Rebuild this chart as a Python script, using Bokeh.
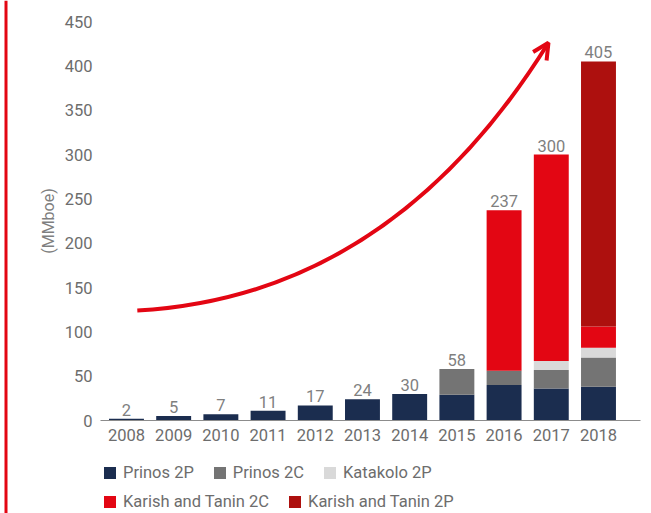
from bokeh.plotting import figure
from bokeh.layouts import column, row
from bokeh.models import (ColumnDataSource, Range1d, FixedTicker, Legend, LegendItem,
                          LabelSet, Arrow, OpenHead)
from bokeh.core.properties import value
from bokeh.embed import file_html
from bokeh.resources import INLINE

years = ["2008", "2009", "2010", "2011", "2012", "2013", "2014", "2015", "2016", "2017", "2018"]
prinos_2p = [2, 5, 7, 11, 17, 24, 30, 29, 40, 36, 38]
prinos_2c = [0, 0, 0, 0, 0, 0, 0, 29, 16, 21, 33]
katakolo_2p = [0, 0, 0, 0, 0, 0, 0, 0, 0, 10, 11]
karish_2c = [0, 0, 0, 0, 0, 0, 0, 0, 181, 233, 24]
karish_2p = [0, 0, 0, 0, 0, 0, 0, 0, 0, 0, 299]
totals = [2, 5, 7, 11, 17, 24, 30, 58, 237, 300, 405]
y_ticks = [0, 50, 100, 150, 200, 250, 300, 350, 400, 450]

series_names = ["Prinos 2P", "Prinos 2C", "Katakolo 2P", "Karish and Tanin 2C", "Karish and Tanin 2P"]
colors = ["#1b2d4f", "#747474", "#d9d9d9", "#e30613", "#ad100e"]
keys = ["p2p", "p2c", "k2p", "kt2c", "kt2p"]

xs = list(range(len(years)))
src = ColumnDataSource(dict(x=xs, p2p=prinos_2p, p2c=prinos_2c, k2p=katakolo_2p,
                            kt2c=karish_2c, kt2p=karish_2p, total=totals,
                            label=[str(t) for t in totals]))

FONT = "Roboto"
RED = "#e30613"
TXT = "#6d6d6d"
FS = "16.5px"


def bare(fig):
    fig.outline_line_color = None
    fig.xgrid.visible = False
    fig.ygrid.visible = False
    return fig


p = figure(width=643, height=450, output_backend="svg", toolbar_location=None,
           x_range=Range1d(-0.55, 10.89), y_range=Range1d(0, 450),
           min_border_left=92, min_border_right=11, min_border_top=21, min_border_bottom=30)
bare(p)

rs = p.vbar_stack(keys, x="x", width=0.74, source=src, color=colors, line_color=None)

labels = LabelSet(x="x", y="total", text="label", source=src, y_offset=3,
                  text_align="center", text_baseline="bottom",
                  text_font=value(FONT), text_font_size=value(FS), text_color="#7f7f7f")
p.add_layout(labels)

# axes
p.xaxis.ticker = FixedTicker(ticks=xs)
p.xaxis.major_label_overrides = {i: y for i, y in enumerate(years)}
p.xaxis.major_tick_line_color = None
p.xaxis.major_tick_out = 0
p.xaxis.major_tick_in = 0
p.xaxis.minor_tick_line_color = None
p.xaxis.axis_line_color = "#8c8c8c"
p.xaxis.major_label_text_font = FONT
p.xaxis.major_label_text_font_size = FS
p.xaxis.major_label_text_color = TXT
p.xaxis.major_label_standoff = 8

p.yaxis.ticker = FixedTicker(ticks=y_ticks)
p.yaxis.axis_line_color = None
p.yaxis.major_tick_line_color = None
p.yaxis.major_tick_out = 0
p.yaxis.major_tick_in = 0
p.yaxis.minor_tick_line_color = None
p.yaxis.major_label_text_font = FONT
p.yaxis.major_label_text_font_size = FS
p.yaxis.major_label_text_color = TXT
p.yaxis.major_label_standoff = 8
p.yaxis.axis_label = "(MMboe)"
p.yaxis.axis_label_text_font = FONT
p.yaxis.axis_label_text_font_style = "normal"
p.yaxis.axis_label_text_font_size = "16px"
p.yaxis.axis_label_text_color = "#7f7f7f"
p.yaxis.axis_label_standoff = 4

# growth arrow (decorative)
arrow_start = (0.23, 124)
arrow_ctrl = (5.6, 140)
arrow_end = (8.94, 426)
arrow_tail = (8.88, 421)
p.quadratic(x0=[arrow_start[0]], y0=[arrow_start[1]], x1=[arrow_end[0]], y1=[arrow_end[1]],
            cx=[arrow_ctrl[0]], cy=[arrow_ctrl[1]], line_color=RED, line_width=4)
p.add_layout(Arrow(x_start=arrow_tail[0], y_start=arrow_tail[1], x_end=arrow_end[0], y_end=arrow_end[1],
                   line_color=RED, line_width=4,
                   end=OpenHead(size=16, line_color=RED, line_width=4)))

# legend strip below the chart; the swatch renderers are tiny and hidden behind the legend box
lf = figure(width=643, height=63, output_backend="svg", toolbar_location=None,
            x_axis_location=None, y_axis_location=None,
            x_range=Range1d(0, 1), y_range=Range1d(0, 1),
            min_border_left=0, min_border_right=0, min_border_top=0, min_border_bottom=0)
bare(lf)
swatches = [lf.vbar(x=[0.3], bottom=[0.64], top=[0.66], width=0.002, color=c, line_color=None)
            for c in colors]
items = [LegendItem(label=n, renderers=[r]) for n, r in zip(series_names, swatches)]


def make_legend(its, loc):
    return Legend(items=its, orientation="horizontal", location=loc,
                  border_line_color=None, background_fill_color="white", background_fill_alpha=1,
                  label_text_font=FONT, label_text_font_size=FS, label_text_color=TXT,
                  glyph_width=15, glyph_height=15, label_standoff=6, spacing=18,
                  label_height=20, margin=0, padding=0)


lf.add_layout(make_legend(items[:3], (2, 31)))
lf.add_layout(make_legend(items[3:], (2, 2)))

# red rule on the left edge
rule = figure(width=8, height=513, output_backend="svg", toolbar_location=None,
              x_axis_location=None, y_axis_location=None,
              x_range=Range1d(0, 8), y_range=Range1d(0, 1),
              min_border_left=0, min_border_right=0, min_border_top=0, min_border_bottom=0)
bare(rule)
rule.quad(left=[4], right=[7], bottom=[0], top=[1], color=RED, line_color=None)

layout = row(rule, column(p, lf, spacing=0), spacing=0)

open("out.html", "w").write(file_html(layout, INLINE))
